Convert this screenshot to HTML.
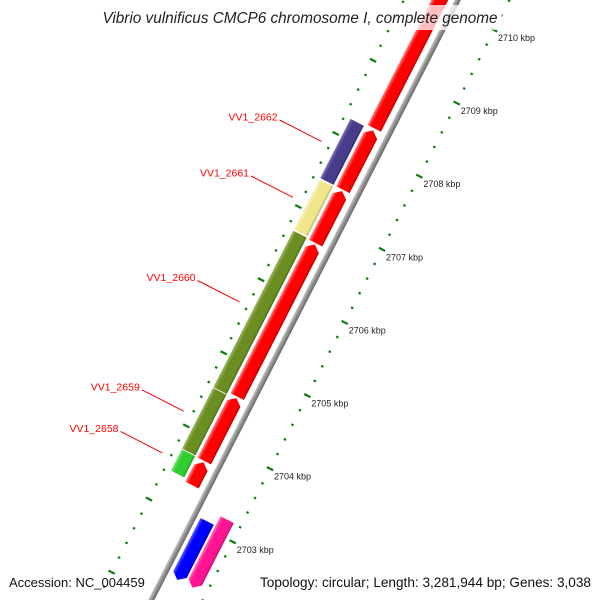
<!DOCTYPE html>
<html><head><meta charset="utf-8">
<style>
html,body{margin:0;padding:0;background:#fff;width:600px;height:600px;overflow:hidden;}
svg{display:block;font-family:"Liberation Sans",sans-serif;overflow:hidden;}
</style></head>
<body>
<svg id="map" width="600" height="600" viewBox="0 0 600 600" xmlns="http://www.w3.org/2000/svg">
<defs>
<linearGradient id="g-gray" x1="0" x2="1" y1="0" y2="0"><stop offset="0" stop-color="#c8c8c8"/><stop offset="0.4" stop-color="#999"/><stop offset="1" stop-color="#666"/></linearGradient>
<linearGradient id="g-red" x1="0" x2="1" y1="0" y2="0"><stop offset="0" stop-color="#ff8080"/><stop offset="0.25" stop-color="#ff0000"/><stop offset="0.85" stop-color="#ff0000"/><stop offset="1" stop-color="#b00000"/></linearGradient>
<linearGradient id="g-purple" x1="0" x2="1" y1="0" y2="0"><stop offset="0" stop-color="#7d73b5"/><stop offset="0.25" stop-color="#483d8b"/><stop offset="0.85" stop-color="#483d8b"/><stop offset="1" stop-color="#2e2760"/></linearGradient>
<linearGradient id="g-khaki" x1="0" x2="1" y1="0" y2="0"><stop offset="0" stop-color="#f8f1c0"/><stop offset="0.25" stop-color="#f0e68c"/><stop offset="0.85" stop-color="#f0e68c"/><stop offset="1" stop-color="#b8ae60"/></linearGradient>
<linearGradient id="g-olive" x1="0" x2="1" y1="0" y2="0"><stop offset="0" stop-color="#9ab860"/><stop offset="0.25" stop-color="#6b8e23"/><stop offset="0.85" stop-color="#6b8e23"/><stop offset="1" stop-color="#4a6518"/></linearGradient>
<linearGradient id="g-lime" x1="0" x2="1" y1="0" y2="0"><stop offset="0" stop-color="#80e880"/><stop offset="0.25" stop-color="#32cd32"/><stop offset="0.85" stop-color="#32cd32"/><stop offset="1" stop-color="#209020"/></linearGradient>
<linearGradient id="g-blue" x1="0" x2="1" y1="0" y2="0"><stop offset="0" stop-color="#6060ff"/><stop offset="0.25" stop-color="#0000ff"/><stop offset="0.85" stop-color="#0000ff"/><stop offset="1" stop-color="#0000a0"/></linearGradient>
<linearGradient id="g-pink" x1="0" x2="1" y1="0" y2="0"><stop offset="0" stop-color="#ff70c0"/><stop offset="0.25" stop-color="#ff1493"/><stop offset="0.85" stop-color="#ff1493"/><stop offset="1" stop-color="#b00c66"/></linearGradient>
</defs>
<rect x="0" y="0" width="600" height="600" fill="#fff"/>
<g id="rot" transform="translate(190.6,523) rotate(27.06)"></g>
<g id="flat"></g>
<rect x="98" y="5" width="404" height="25" fill="#fff" fill-opacity="0.75"/>
<text x="300" y="23" text-anchor="middle" font-size="15.3" font-style="italic" fill="#222">Vibrio vulnificus CMCP6 chromosome I, complete genome</text>
<text x="9" y="587" font-size="13" fill="#111">Accession: NC_004459</text>
<text x="591" y="587" text-anchor="end" font-size="13.6" fill="#111">Topology: circular; Length: 3,281,944 bp; Genes: 3,038</text>
</svg>
<script>
// ---- data ----
const fwdStarts = [2708.27, 2707.43, 2706.70, 2704.60, 2703.72, 2703.39];
const fwdEnds   = [2711.50, 2708.24, 2707.41, 2706.68, 2704.58, 2703.70];
const outerStarts = [2707.43, 2706.73, 2704.57, 2703.73, 2703.43];
const outerEnds   = [2708.24, 2707.41, 2706.71, 2704.56, 2703.72];
const outerNames  = ["VV1_2662", "VV1_2661", "VV1_2660", "VV1_2659", "VV1_2658"];
const outerFills  = ["g-purple", "g-khaki", "g-olive", "g-olive", "g-lime"];
const revStarts = [2702.28, 2702.28];
const revEnds   = [2703.08, 2703.21];
const revTracks = [14, 31];
const revFills  = ["g-blue", "g-pink"];
const tickMajors = [2701, 2702, 2703, 2704, 2705, 2706, 2707, 2708, 2709, 2710, 2711];
const tickLabels = ["2701 kbp","2702 kbp","2703 kbp","2704 kbp","2705 kbp","2706 kbp","2707 kbp","2708 kbp","2709 kbp","2710 kbp","2711 kbp"];

// ---- axis functions ----
const NS = "http://www.w3.org/2000/svg";
const PX_PER_KBP = 82.1, S0 = 2.4, K0 = 2703;
function sPos(k){ return S0 + (k - K0) * PX_PER_KBP; }
function localY(k){ return -sPos(k); }
function pagePt(k, off){
  const s = sPos(k);
  return [190.6 + s*0.4548 + off*0.8906, 523 - s*0.8906 + off*0.4548];
}
const rot = document.getElementById('rot');
const flat = document.getElementById('flat');
function mk(tag, attrs, parent){
  const e = document.createElementNS(NS, tag);
  for (const k in attrs) e.setAttribute(k, attrs[k]);
  parent.appendChild(e);
  return e;
}
const W = 15, HEAD = 6;
function fwdArrow(k1, k2, off, fill){
  const yb = localY(k1), yt = localY(k2), l = off - W/2, r = off + W/2;
  const h = Math.min(HEAD, (yb - yt));
  return mk('polygon', {points:`${l},${yb} ${r},${yb} ${r},${yt+h} ${off},${yt} ${l},${yt+h}`, fill:`url(#${fill})`}, rot);
}
function revArrow(k1, k2, off, fill){
  const yb = localY(k1), yt = localY(k2), l = off - W/2, r = off + W/2;
  const h = Math.min(HEAD, (yb - yt));
  return mk('polygon', {points:`${l},${yt} ${r},${yt} ${r},${yb-h} ${off},${yb} ${l},${yb-h}`, fill:`url(#${fill})`}, rot);
}

// backbone
const bb = mk('rect', {x:-2.8, y:localY(2711.5), width:5.6, height:localY(2701.5)-localY(2711.5), fill:'url(#g-gray)'}, rot);



// tick rings
const rings = [46, -48];
for (let ri = 0; ri < rings.length; ri++){
  const off = rings[ri];
  for (let m = 0; m < tickMajors.length - 1; m++){
    for (let j = 0; j < 5; j++){
      const k = tickMajors[m] + j*0.2;
      const major = j === 0;
      const len = major ? 7 : 2.4;
      const t = mk('rect', {x: off - len/2, y: localY(k) - 1.1, width: len, height: 2.2, fill:'#0a7d0a'}, rot);
      
      
    }
  }
}
// tick labels
for (let i = 0; i < tickMajors.length; i++){
  const p = pagePt(tickMajors[i], 46);
  const t = mk('text', {x: (p[0]+4).toFixed(1), y: (p[1]+11).toFixed(1), 'font-size': 9, fill:'#222'}, flat);
  t.textContent = tickLabels[i];
  
  
}

// forward red genes
for (let i = 0; i < fwdStarts.length; i++){
  const f = fwdArrow(fwdStarts[i], fwdEnds[i], -16, 'g-red');
  
  
}
// outer labelled genes
for (let i = 0; i < outerStarts.length; i++){
  const yb = localY(outerStarts[i]), yt = localY(outerEnds[i]);
  const g = mk('rect', {x: -34 - W/2, y: yt, width: W, height: yb - yt, fill:`url(#${outerFills[i]})`}, rot);
  
  
  const mid = (outerStarts[i] + outerEnds[i]) / 2;
  const a = pagePt(mid, -57), b = pagePt(mid, -104);
  const ln = mk('line', {x1:a[0].toFixed(1), y1:a[1].toFixed(1), x2:b[0].toFixed(1), y2:b[1].toFixed(1), stroke:'#ff0000', 'stroke-width':1}, flat);
  
  
  const tx = mk('text', {x:(b[0]-2).toFixed(1), y:(b[1]+0.5).toFixed(1), 'text-anchor':'end', 'font-size':10.5, fill:'#ff0000'}, flat);
  tx.textContent = outerNames[i];
  
  
}
// reverse genes
for (let i = 0; i < revStarts.length; i++){
  const r = revArrow(revStarts[i], revEnds[i], revTracks[i], revFills[i]);
  
  
}
</script>
</body></html>
